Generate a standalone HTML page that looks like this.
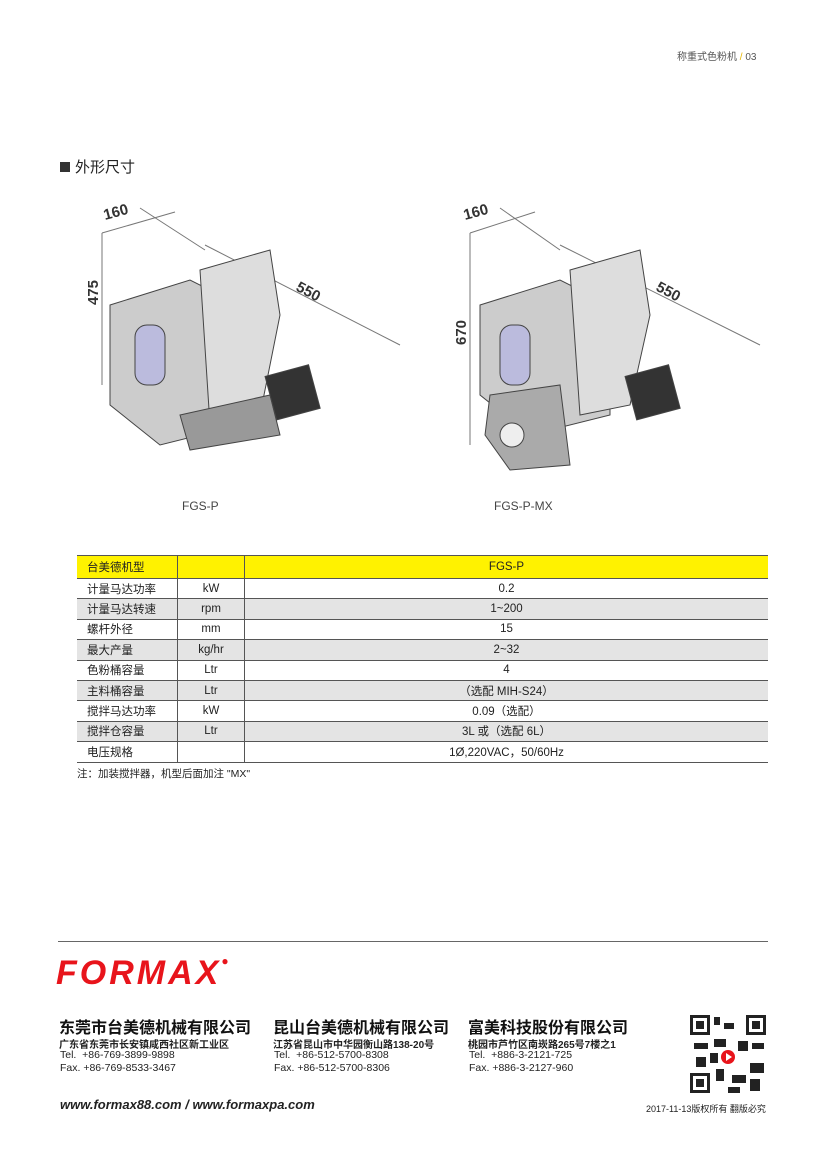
<!DOCTYPE html>
<html><head><meta charset="utf-8"><style>
body{margin:0;width:827px;height:1170px;background:#fff;position:relative;font-family:"Liberation Sans","Noto Sans CJK SC",sans-serif;color:#222;overflow:hidden}
.a{position:absolute;white-space:nowrap}
table{position:absolute;left:77px;top:555px;width:691px;border-collapse:collapse;font-size:11.5px}
td{height:19.4px;padding:0;border-bottom:1px solid #555;text-align:center;vertical-align:middle}
td:first-child{text-align:left;padding-left:10px;width:90px;border-right:1px solid #555}
td:nth-child(2){width:66px;border-right:1px solid #555}
tr.h td{background:#fff200;height:22px;border-top:1px solid #555}
tr.g td{background:#e4e4e4}
.co{font-weight:bold;font-size:16px;color:#111}
.ad{font-weight:bold;font-size:10px}
.t{font-size:10.5px;line-height:13px}
</style></head><body>
<div class="a" style="left:677px;top:48px;font-size:10px;color:#555">称重式色粉机 <span style="color:#e8b800">/</span> 03</div>
<div class="a" style="left:60px;top:156px;font-size:15px"><span style="display:inline-block;width:10px;height:10px;background:#333;margin-right:5px"></span>外形尺寸</div>

<svg class="a" style="left:80px;top:195px" width="700" height="290">
<g stroke="#777" stroke-width="1" fill="none">
<line x1="22" y1="38" x2="22" y2="190"/><line x1="22" y1="38" x2="95" y2="17"/>
<line x1="60" y1="13" x2="125" y2="55"/><line x1="125" y1="50" x2="320" y2="150"/>
<line x1="390" y1="38" x2="390" y2="250"/><line x1="390" y1="38" x2="455" y2="17"/>
<line x1="420" y1="13" x2="480" y2="55"/><line x1="480" y1="50" x2="680" y2="150"/>
</g>
<g font-weight="bold" font-size="15" fill="#333">
<text x="25" y="25" transform="rotate(-15 25 25)">160</text>
<text x="215" y="95" transform="rotate(28 215 95)">550</text>
<text x="18" y="110" transform="rotate(-90 18 110)">475</text>
<text x="385" y="25" transform="rotate(-15 385 25)">160</text>
<text x="575" y="95" transform="rotate(28 575 95)">550</text>
<text x="386" y="150" transform="rotate(-90 386 150)">670</text>
</g>
<g fill="#ccc" stroke="#444">
<path d="M30 110 L110 85 L160 110 L160 230 L80 250 L30 210Z"/>
<path d="M120 75 L190 55 L200 120 L180 220 L130 230Z" fill="#ddd"/>
<rect x="55" y="130" width="30" height="60" rx="12" fill="#bbd"/>
<path d="M100 220 L190 200 L200 240 L110 255Z" fill="#999"/>
<rect x="190" y="175" width="45" height="45" fill="#333" transform="rotate(-15 212 197)"/>
<path d="M400 110 L480 85 L530 110 L530 220 L450 240 L400 200Z"/>
<path d="M490 75 L560 55 L570 120 L550 210 L500 220Z" fill="#ddd"/>
<rect x="420" y="130" width="30" height="60" rx="12" fill="#bbd"/>
<path d="M410 200 L480 190 L490 270 L430 275 L405 240Z" fill="#aaa"/>
<circle cx="432" cy="240" r="12" fill="#eee"/>
<rect x="550" y="175" width="45" height="45" fill="#333" transform="rotate(-15 572 197)"/>
</g>
</svg>
<div class="a" style="left:182px;top:499px;font-size:12px;color:#444">FGS-P</div>
<div class="a" style="left:494px;top:499px;font-size:12px;color:#444">FGS-P-MX</div>

<table>
<tr class="h"><td>台美德机型</td><td></td><td>FGS-P</td></tr>
<tr><td>计量马达功率</td><td>kW</td><td>0.2</td></tr>
<tr class="g"><td>计量马达转速</td><td>rpm</td><td>1~200</td></tr>
<tr><td>螺杆外径</td><td>mm</td><td>15</td></tr>
<tr class="g"><td>最大产量</td><td>kg/hr</td><td>2~32</td></tr>
<tr><td>色粉桶容量</td><td>Ltr</td><td>4</td></tr>
<tr class="g"><td>主料桶容量</td><td>Ltr</td><td>（选配 MIH-S24）</td></tr>
<tr><td>搅拌马达功率</td><td>kW</td><td>0.09（选配）</td></tr>
<tr class="g"><td>搅拌仓容量</td><td>Ltr</td><td>3L 或（选配 6L）</td></tr>
<tr><td>电压规格</td><td></td><td>1Ø,220VAC，50/60Hz</td></tr>
</table>
<div class="a" style="left:77px;top:766px;font-size:10.5px">注：加装搅拌器，机型后面加注 "MX"</div>

<div class="a" style="left:58px;top:941px;width:710px;height:1px;background:#666"></div>
<div class="a" style="left:56px;top:954px;font-size:34px;font-weight:bold;font-style:italic;color:#e8141b;letter-spacing:3px">FORMAX<span style="font-size:12px;vertical-align:top">●</span></div>

<div class="a co" style="left:59px;top:1014px">东莞市台美德机械有限公司</div>
<div class="a ad" style="left:59px;top:1036px">广东省东莞市长安镇咸西社区新工业区</div>
<div class="a t" style="left:60px;top:1049px">Tel.&nbsp; +86-769-3899-9898<br>Fax. +86-769-8533-3467</div>
<div class="a co" style="left:273px;top:1014px">昆山台美德机械有限公司</div>
<div class="a ad" style="left:273px;top:1036px">江苏省昆山市中华园衡山路138-20号</div>
<div class="a t" style="left:274px;top:1049px">Tel.&nbsp; +86-512-5700-8308<br>Fax. +86-512-5700-8306</div>
<div class="a co" style="left:468px;top:1014px">富美科技股份有限公司</div>
<div class="a ad" style="left:468px;top:1036px">桃园市芦竹区南崁路265号7楼之1</div>
<div class="a t" style="left:469px;top:1049px">Tel.&nbsp; +886-3-2121-725<br>Fax. +886-3-2127-960</div>

<svg class="a" style="left:688px;top:1013px" width="80" height="82">
<rect width="80" height="82" fill="#fff"/>
<g fill="#222"><rect x="2" y="2" width="20" height="20"/><rect x="58" y="2" width="20" height="20"/><rect x="2" y="60" width="20" height="20"/>
<rect x="26" y="4" width="6" height="8"/><rect x="36" y="10" width="10" height="6"/><rect x="26" y="26" width="12" height="8"/><rect x="50" y="28" width="10" height="10"/><rect x="64" y="30" width="12" height="6"/><rect x="6" y="30" width="14" height="6"/><rect x="8" y="44" width="10" height="10"/><rect x="28" y="56" width="8" height="12"/><rect x="44" y="62" width="14" height="8"/><rect x="62" y="50" width="14" height="10"/><rect x="62" y="66" width="10" height="12"/><rect x="40" y="74" width="12" height="6"/><rect x="22" y="40" width="8" height="10"/></g>
<g fill="#fff"><rect x="5" y="5" width="14" height="14"/><rect x="61" y="5" width="14" height="14"/><rect x="5" y="63" width="14" height="14"/></g>
<g fill="#222"><rect x="8" y="8" width="8" height="8"/><rect x="64" y="8" width="8" height="8"/><rect x="8" y="66" width="8" height="8"/></g>
<circle cx="40" cy="44" r="7" fill="#e8141b"/><path d="M38 40 L44 44 L38 48Z" fill="#fff"/>
</svg>
<div class="a" style="left:60px;top:1097px;font-size:13px;font-weight:bold;font-style:italic">www.formax88.com / www.formaxpa.com</div>
<div class="a" style="left:646px;top:1102px;font-size:9px">2017-11-13版权所有 翻版必究</div>
</body></html>
